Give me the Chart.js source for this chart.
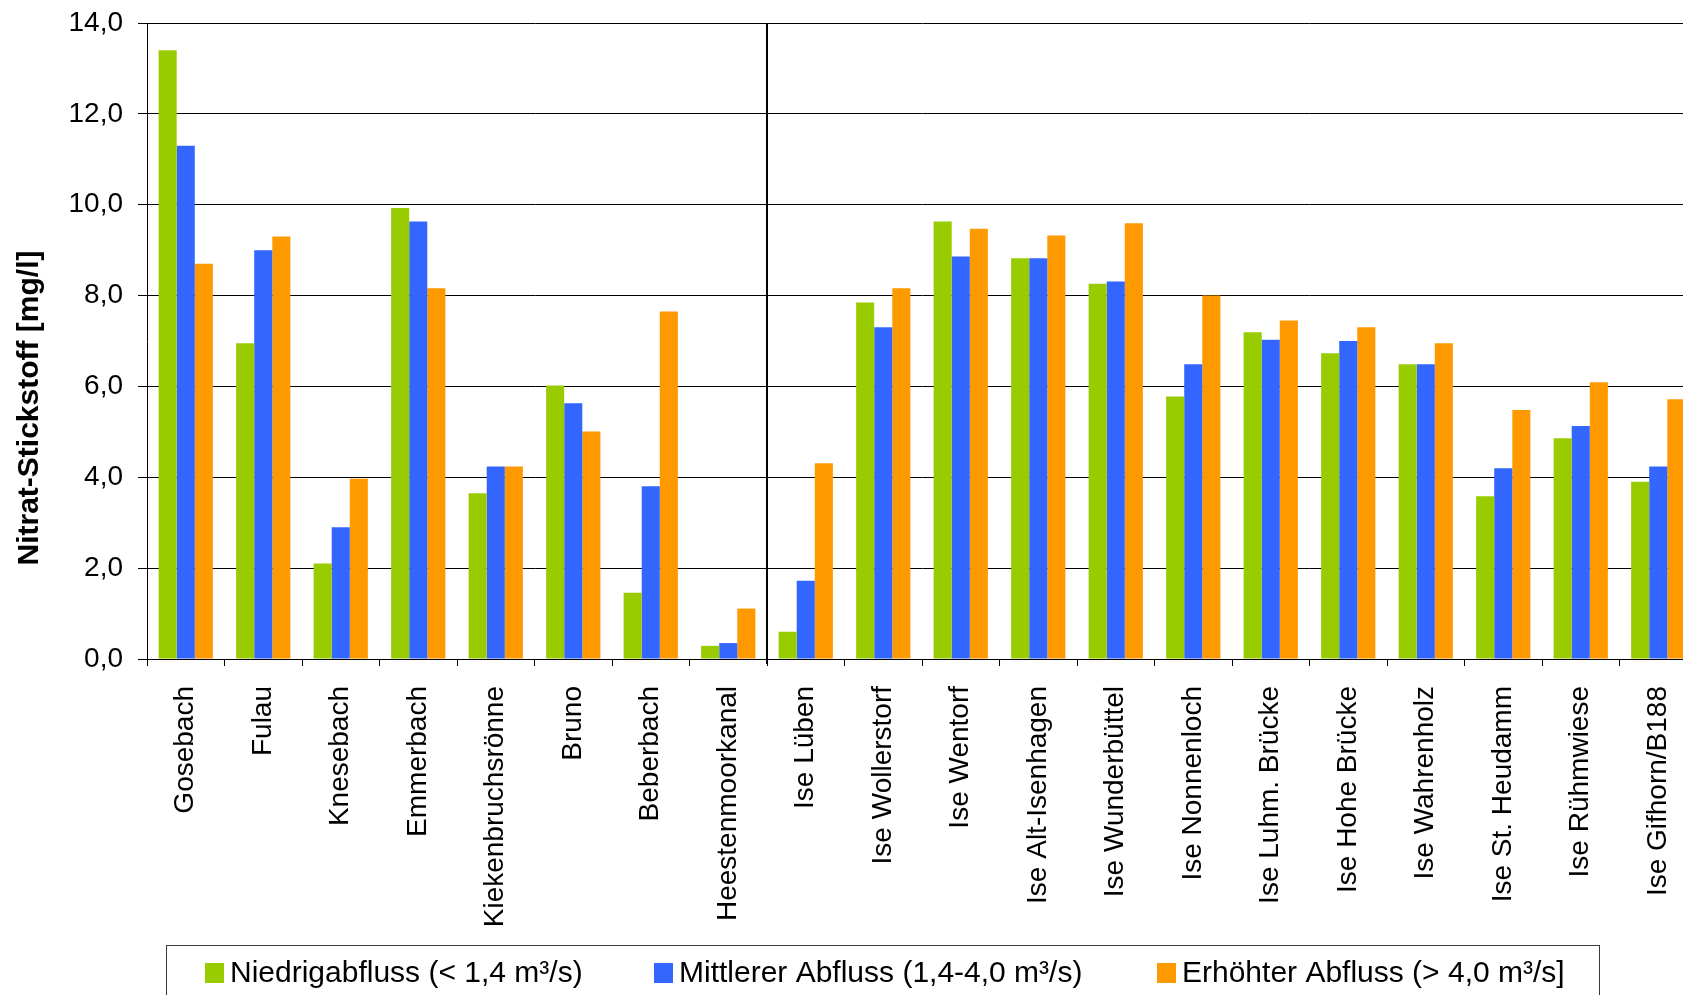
<!DOCTYPE html>
<html lang="de">
<head>
<meta charset="utf-8">
<title>Nitrat-Stickstoff nach Abflussklasse</title>
<script src="https://cdn.jsdelivr.net/npm/chart.js@4.4.1/dist/chart.umd.min.js"></script>
<style>
  html, body { margin: 0; padding: 0; background: #fff; overflow: hidden; }
  #chart { display: block; }
</style>
</head>
<body>
<canvas id="chart" width="1697" height="1010"></canvas>
<script>
// Messstellen (Nebenbäche links, Ise-Stationen rechts)
const categories = [
  'Gosebach', 'Fulau', 'Knesebach', 'Emmerbach', 'Kiekenbruchsrönne',
  'Bruno', 'Beberbach', 'Heestenmoorkanal',
  'Ise Lüben', 'Ise Wollerstorf', 'Ise Wentorf', 'Ise Alt-Isenhagen',
  'Ise Wunderbüttel', 'Ise Nonnenloch', 'Ise Luhm. Brücke', 'Ise Hohe Brücke',
  'Ise Wahrenholz', 'Ise St. Heudamm', 'Ise Rühmwiese', 'Ise Gifhorn/B188'
];

// Nitrat-Stickstoff [mg/l] je Abflussklasse
const niedrigabfluss = [13.4, 6.95, 2.1, 9.93, 3.65, 6.02, 1.46, 0.29,
  0.6, 7.85, 9.63, 8.82, 8.26, 5.78, 7.19, 6.73, 6.49, 3.58, 4.86, 3.9];
const mittlererAbfluss = [11.3, 9.0, 2.9, 9.63, 4.24, 5.63, 3.8, 0.35,
  1.72, 7.3, 8.86, 8.82, 8.31, 6.49, 7.03, 7.0, 6.49, 4.2, 5.13, 4.24];
const erhoehterAbfluss = [8.7, 9.3, 3.97, 8.16, 4.24, 5.01, 7.65, 1.11,
  4.31, 8.16, 9.47, 9.32, 9.59, 8.0, 7.45, 7.3, 6.95, 5.48, 6.09, 5.72];

const seriesLabels = [
  'Niedrigabfluss (< 1,4 m³/s)',
  'Mittlerer Abfluss (1,4-4,0 m³/s)',
  'Erhöhter Abfluss (> 4,0 m³/s]'
];
const yTickLabels = ['0,0', '2,0', '4,0', '6,0', '8,0', '10,0', '12,0', '14,0'];
const yAxisTitle = 'Nitrat-Stickstoff [mg/l]';

// number of tributaries before the Ise stations
const tributaryCount = 8;

const FONT = '"Liberation Sans", Arial, Helvetica, sans-serif';
const colors = ['#99CC00', '#3366FF', '#FF9900'];

// Vertical divider between tributaries and Ise stations, y-title and boxed legend
const decorations = {
  id: 'decorations',
  afterDatasetsDraw(chart) {
    const { ctx, chartArea, scales: { x } } = chart;
    const xs = (x.getPixelForValue(tributaryCount - 1) + x.getPixelForValue(tributaryCount)) / 2;
    ctx.save();
    ctx.strokeStyle = '#000';
    ctx.lineWidth = 2;
    ctx.beginPath();
    ctx.moveTo(Math.round(xs), chartArea.top);
    ctx.lineTo(Math.round(xs), chartArea.bottom + 5);
    ctx.stroke();
    ctx.restore();
  },
  afterDraw(chart) {
    const { ctx, chartArea } = chart;
    ctx.save();
    // axis title
    ctx.translate(30, (chartArea.top + chartArea.bottom) / 2 + 67);
    ctx.rotate(-Math.PI / 2);
    ctx.font = 'bold 30px ' + FONT;
    ctx.fillStyle = '#000';
    ctx.textAlign = 'center';
    ctx.textBaseline = 'middle';
    ctx.fillText(yAxisTitle, 0, 0);
    ctx.restore();

    // legend box
    const boxTop = 945.5;
    ctx.save();
    ctx.strokeStyle = '#3a3a3a';
    ctx.lineWidth = 1;
    ctx.fillStyle = '#fff';
    ctx.fillRect(166, boxTop, 1434, 80);
    ctx.strokeRect(166.5, boxTop, 1433, 80);
    const itemX = [205, 654, 1157];
    const cy = 973;
    ctx.font = '30px ' + FONT;
    ctx.textBaseline = 'middle';
    ctx.textAlign = 'left';
    chart.data.datasets.forEach((ds, i) => {
      ctx.fillStyle = ds.backgroundColor;
      ctx.fillRect(itemX[i], cy - 10, 19, 20);
      ctx.fillStyle = '#000';
      ctx.fillText(ds.label, itemX[i] + 25, cy + 1);
    });
    ctx.restore();
  }
};

new Chart(document.getElementById('chart'), {
  type: 'bar',
  data: {
    labels: categories,
    datasets: [
      { label: seriesLabels[0], data: niedrigabfluss, backgroundColor: colors[0] },
      { label: seriesLabels[1], data: mittlererAbfluss, backgroundColor: colors[1] },
      { label: seriesLabels[2], data: erhoehterAbfluss, backgroundColor: colors[2] }
    ]
  },
  options: {
    responsive: false,
    animation: false,
    devicePixelRatio: 1,
    datasets: { bar: { categoryPercentage: 0.7, barPercentage: 1.0, borderWidth: 0 } },
    layout: { padding: { top: 23, left: 0, right: 0, bottom: 80 } },
    plugins: {
      legend: { display: false },
      tooltip: { enabled: false },
      title: { display: false }
    },
    scales: {
      x: {
        grid: {
          display: true,
          drawOnChartArea: false,
          drawTicks: true,
          tickLength: 7,
          color: '#000',
          offset: true
        },
        border: { display: true, color: '#000', width: 1 },
        ticks: {
          autoSkip: false,
          minRotation: 90,
          maxRotation: 90,
          padding: 20,
          color: '#000',
          font: { family: FONT, size: 28 }
        },
        afterFit(scale) {
          scale.height = 271;
          scale.paddingLeft = 0;
          scale.paddingRight = 0;
        }
      },
      y: {
        min: 0,
        max: 14,
        grid: { color: '#000', lineWidth: 1, tickLength: 9, drawTicks: true },
        border: { display: true, color: '#000', width: 1 },
        ticks: {
          stepSize: 2,
          padding: 15,
          color: '#000',
          font: { family: FONT, size: 28 },
          callback: (value) => yTickLabels[Math.round(value / 2)]
        },
        afterFit(scale) {
          scale.width = 147;
          scale.paddingTop = 0;
          scale.paddingBottom = 0;
        }
      }
    }
  },
  plugins: [decorations]
});
</script>
</body>
</html>
